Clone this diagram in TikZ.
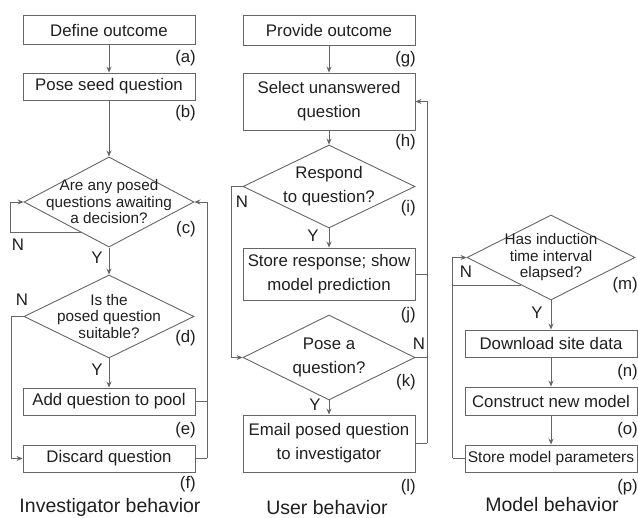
\documentclass[tikz,border=0pt]{standalone}
\usepackage{fontspec}
\setmainfont{Liberation Sans}
\usepackage{tikz}
\usepackage{xcolor}
\usetikzlibrary{calc}
\usetikzlibrary{shapes.geometric}
\usetikzlibrary{arrows.meta}

\definecolor{linegrey}{gray}{0.4}
\definecolor{textgrey}{gray}{0.12}

\newcommand{\boxfont}{\fontsize{16.8}{24}\selectfont}
\newcommand{\diafont}{\fontsize{15.3}{16.5}\selectfont}
\newcommand{\capfont}{\fontsize{19.5}{22}\selectfont}

\begin{document}
\begin{tikzpicture}[x=1pt, y=-1pt,
    every node/.style={text=textgrey},
    stepbox/.style={draw=linegrey, line width=0.9pt, minimum width=172pt, inner sep=0pt, align=center, font=\boxfont},
    decision/.style={diamond, draw=linegrey, line width=0.9pt, inner sep=-20pt, minimum width=170pt, align=center, font=\boxfont},
    tag/.style={anchor=east, inner sep=0pt, font=\boxfont},
    yn/.style={inner sep=0pt, font=\boxfont},
    caption/.style={inner sep=0pt, font=\capfont},
    flow/.style={draw=linegrey, line width=0.9pt, -{Stealth[length=6pt, width=5pt]}},
    link/.style={draw=linegrey, line width=0.9pt}]
\useasboundingbox (0,0) rectangle (638,518);

    % investigator
    \node[stepbox, minimum height=29pt] (define) at (109, 30) {Define outcome};
    \node[stepbox, minimum height=27pt] (seed) at (109, 86.5) {Pose seed question};
    \node[decision, minimum height=83pt, font=\diafont] (awaiting) at (109, 202) {Are any posed\\questions awaiting\\a decision?};
    \node[decision, minimum height=83pt, font=\diafont] (suitable) at (109, 316.5) {Is the\\posed question\\suitable?};
    \node[stepbox, minimum height=27pt] (addpool) at (109, 401.5) {Add question to pool};
    \node[stepbox, minimum height=27pt] (discard) at (109, 458.5) {Discard question};

        \node[tag] (ta) at (196, 58) {(a)};
        \node[tag] (tb) at (196, 113) {(b)};
        \node[tag] (tc) at (196, 229) {(c)};
        \node[tag] (td) at (196, 338) {(d)};
        \node[tag] (te) at (196, 430) {(e)};
        \node[tag] (tf) at (196, 484) {(f)};

        \node[yn] (cno) at (18, 245) {N};
        \node[yn] (cyes) at (97, 258) {Y};
        \node[yn] (dno) at (22, 300) {N};
        \node[yn] (dyes) at (97, 370) {Y};

    \draw[flow] (define) -- (seed);
    \draw[flow] (seed) -- (awaiting);
    \draw[flow] (awaiting) -- (suitable);
    \draw[flow] (suitable) -- (addpool);
    \draw[flow] (suitable.west) -- ++(-12,0) |- (discard.west);
    \coordinate (cN) at ($(awaiting.west)!0.67!(awaiting.south)$);
    \draw[flow] (cN) -- ++(-70,0) |- (awaiting.west);
    \draw[link] (discard.east) -- ++(12,0) coordinate (lr);
    \draw[flow] (lr) |- (awaiting.east);
    \draw[link] (addpool.east) -- (addpool.east -| lr);

    % user
    \node[stepbox, minimum height=30pt] (provide) at (329, 30) {Provide outcome};
    \node[stepbox, minimum height=57pt] (select) at (329, 101.5) {Select unanswered\\question};
    \node[decision, minimum height=83pt, minimum width=172pt] (respond) at (329, 186.5) {Respond\\to question?};
    \node[stepbox, minimum height=52pt] (store) at (329, 274) {Store response; show\\model prediction};
    \node[decision, minimum height=85pt, minimum width=172pt] (pose) at (329, 357.5) {Pose a\\question?};
    \node[stepbox, minimum height=57pt] (email) at (329, 443.5) {Email posed question\\to investigator};

        \node[tag] (tg) at (416, 59) {(g)};
        \node[tag] (th) at (416, 142) {(h)};
        \node[tag] (ti) at (416, 208) {(i)};
        \node[tag] (tj) at (416, 315) {(j)};
        \node[tag] (tk) at (416, 382) {(k)};
        \node[tag] (tl) at (416, 487) {(l)};

        \node[yn] (ino) at (242, 202) {N};
        \node[yn] (iyes) at (313, 236) {Y};
        \node[yn] (kno) at (419, 344) {N};
        \node[yn] (kyes) at (315, 405) {Y};

    \draw[flow] (provide) -- (select);
    \draw[flow] (select) -- (respond);
    \draw[flow] (respond) -- (store);
    \draw[flow] (pose) -- (email);
    \draw[flow] (respond.west) -- ++(-11,0) |- (pose.west);
    \draw[link] (email.east) -- ++(12,0) coordinate (mr);
    \draw[flow] (mr) |- (select.east);
    \draw[link] (store.east) -- (store.east -| mr);
    \draw[link] (pose.east) -- (pose.east -| mr);

    % model
    \node[decision, minimum height=85pt, minimum width=168pt, font=\diafont] (elapsed) at (551, 257.5) {Has induction\\time interval\\elapsed?};
    \node[stepbox, minimum height=27pt] (download) at (551, 343.5) {Download site data};
    \node[stepbox, minimum height=28pt] (construct) at (551, 401) {Construct new model};
    \node[stepbox, minimum height=27pt, font=\fontsize{15.5}{18}\selectfont] (params) at (551, 458.5) {Store model parameters};

        \node[tag] (tm) at (638, 285) {(m)};
        \node[tag] (tn) at (638, 372) {(n)};
        \node[tag] (to) at (638, 430) {(o)};
        \node[tag] (tp) at (638, 487) {(p)};

        \node[yn] (mno) at (466, 272) {N};
        \node[yn] (myes) at (537, 313) {Y};

    \draw[flow] (elapsed) -- (download);
    \draw[flow] (download) -- (construct);
    \draw[flow] (construct) -- (params);
    \draw[link] (params.west) -- ++(-12,0) coordinate (rl);
    \draw[flow] (rl) |- (elapsed.west);
    \coordinate (mN) at ($(elapsed.west)!0.65!(elapsed.south)$);
    \draw[link] (mN) -- (mN -| rl);

    \node[caption] (invcap) at (110, 507) {Investigator behavior};
    \node[caption] (usercap) at (327, 508) {User behavior};
    \node[caption] (modelcap) at (552, 505) {Model behavior};

\end{tikzpicture}
\end{document}
